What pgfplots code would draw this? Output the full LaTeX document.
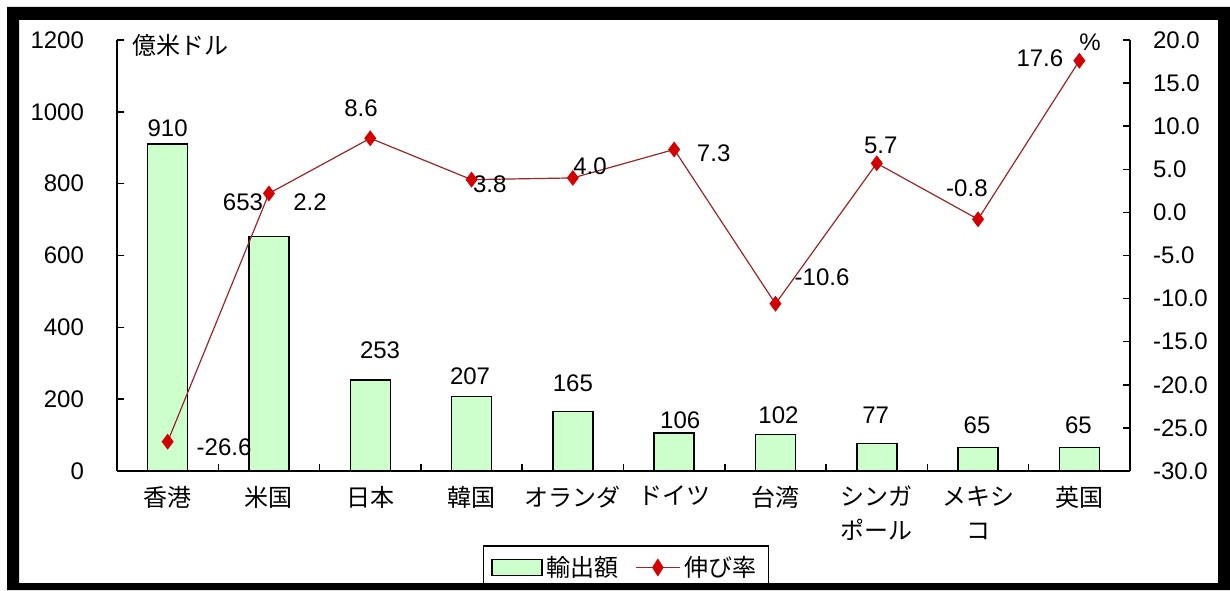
\documentclass[border=0pt]{standalone}
\usepackage{pgfplots}
\pgfplotsset{compat=1.18}
\usepackage{fontspec}
\setmainfont{Liberation Sans}
\newfontfamily\jp{Noto Sans CJK JP}
\definecolor{barfill}{RGB}{204,255,204}
\definecolor{linecol}{RGB}{150,40,40}
\definecolor{markcol}{RGB}{210,0,0}
\begin{document}
\begin{tikzpicture}[x=0.5pt,y=0.5pt]
\path[use as bounding box, fill=white] (0,0) rectangle (1230,590);
\begin{axis}[
  at={(58.5pt,59.5pt)}, anchor=south west,
  scale only axis, width=506.5pt, height=215.5pt,
  xmin=-0.5, xmax=9.5, ymin=0, ymax=1200,
  axis x line*=bottom, axis y line*=left,
  axis line style={line width=0.75pt, -},
  ytick={0,200,...,1200},
  xtick={-0.5,0.5,...,9.5},
  x tick label as interval,
  xticklabels={香港,米国,日本,韓国,オランダ,ドイツ,台湾,{シンガ\\ポール},{メキシ\\コ},英国},
  xticklabel style={font=\jp\fontsize{12}{17}\selectfont, align=center, anchor=north, yshift=-4pt},
  tick align=inside,
  major tick length=3.5pt,
  tick style={black, line width=0.75pt},
  yticklabel style={font=\fontsize{12}{14}\selectfont, xshift=-13pt},
  /pgf/number format/assume math mode=true,
  /pgf/number format/1000 sep={},
  clip=false,
]
\addplot[ybar, bar width=20pt, bar shift=0pt, fill=barfill, draw=black, line width=0.75pt]
  coordinates {(0,910) (1,653) (2,253) (3,207) (4,165) (5,106) (6,102) (7,77) (8,65) (9,65)};
\begin{scope}[every node/.style={font=\fontsize{12}{14}\selectfont}]
\node at (axis cs:0,955) {910};
\node at (axis cs:0.744,749) {653};
\node at (axis cs:2.097,337) {253};
\node at (axis cs:2.985,264) {207};
\node at (axis cs:4.0,245) {165};
\node at (axis cs:5.06,142) {106};
\node at (axis cs:6.03,156) {102};
\node at (axis cs:6.99,156) {77};
\node at (axis cs:7.99,128) {65};
\node at (axis cs:8.99,128) {65};
\end{scope}
\end{axis}
\begin{axis}[
  at={(58.5pt,59.5pt)}, anchor=south west,
  scale only axis, width=506.5pt, height=215.5pt,
  xmin=-0.5, xmax=9.5, ymin=-30, ymax=20,
  axis y line*=right, axis x line=none,
  axis line style={line width=0.75pt, -},
  ytick={-30,-25,...,20},
  tick align=inside,
  major tick length=3.5pt,
  tick style={black, line width=0.75pt},
  yticklabel style={font=\fontsize{12}{14}\selectfont, xshift=8pt,
    /pgf/number format/fixed, /pgf/number format/fixed zerofill, /pgf/number format/precision=1},
  /pgf/number format/assume math mode=true,
  clip=false,
  legend columns=2,
  legend style={at={(0.361,-0.172)}, anchor=north west, draw=black, line width=0.75pt,
    font=\jp\fontsize{12}{14}\selectfont, inner xsep=4pt, inner ysep=3pt,
    /tikz/every even column/.append style={column sep=6pt}},
]
\addlegendimage{legend image code/.code={\draw[fill=barfill,draw=black,line width=0.75pt] (0pt,-4pt) rectangle (25pt,4pt);}}
\addlegendentry{輸出額}
\addplot[linecol, line width=0.6pt, mark=diamond*, mark size=3.5pt, mark options={fill=markcol, draw=markcol},
  legend image code/.code={\draw[linecol, line width=0.9pt] (0pt,0pt) -- (22pt,0pt);
    \fill[markcol] (11pt,4pt) -- (13.5pt,0pt) -- (11pt,-4pt) -- (8.5pt,0pt) -- cycle;}]
  coordinates {(0,-26.6) (1,2.2) (2,8.6) (3,3.8) (4,4.0) (5,7.3) (6,-10.6) (7,5.7) (8,-0.8) (9,17.6)};
\addlegendentry{伸び率}
\begin{scope}[every node/.style={font=\fontsize{12}{14}\selectfont}]
\node at (axis cs:0.557,-27.3) {-26.6};
\node at (axis cs:1.406,1.2) {2.2};
\node at (axis cs:1.909,12.1) {8.6};
\node at (axis cs:3.18,3.3) {3.8};
\node at (axis cs:4.17,5.4) {4.0};
\node at (axis cs:5.39,6.9) {7.3};
\node at (axis cs:6.46,-7.5) {-10.6};
\node at (axis cs:7.04,7.8) {5.7};
\node at (axis cs:7.89,2.8) {-0.8};
\node at (axis cs:8.61,17.9) {17.6};
\end{scope}
\end{axis}
\node[font=\jp\fontsize{12}{14}\selectfont] at (180,545) {億米ドル};
\node[font=\fontsize{12}{14}\selectfont] at (1090,548) {\%};
\fill[black, even odd rule] (7,0) rectangle (1230,583) (19,7) rectangle (1218,570);
\end{tikzpicture}
\end{document}
